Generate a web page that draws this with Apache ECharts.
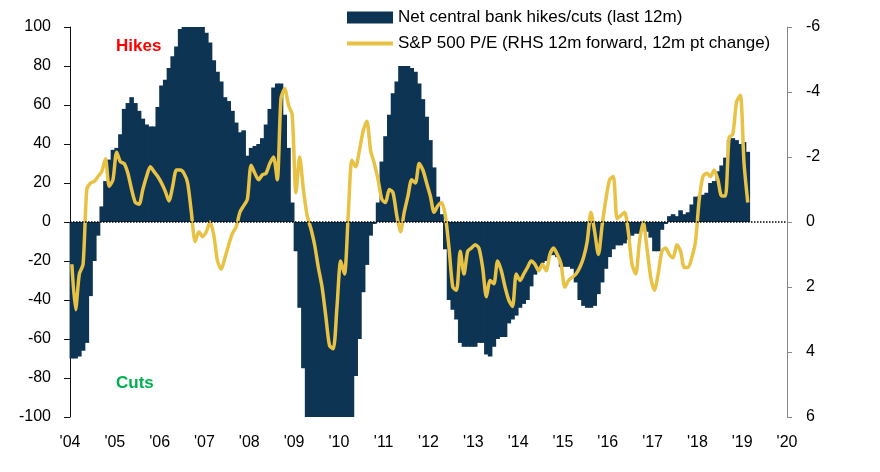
<!DOCTYPE html>
<html><head><meta charset="utf-8">
<script src="https://cdn.jsdelivr.net/npm/echarts@6/dist/echarts.min.js"></script>
<style>html,body{margin:0;padding:0;background:#fff}#c{width:880px;height:472px}</style>
</head><body><div id="c"></div>
<script>
// Monthly data, Jan 2004 onwards
const startYear = 2004;
const barName = 'Net central bank hikes/cuts (last 12m)';
const lineName = 'S&P 500 P/E (RHS 12m forward, 12m pt change)';
const xTickLabels = ["'04","'05","'06","'07","'08","'09","'10","'11","'12","'13","'14","'15","'16","'17","'18","'19","'20"];
const leftTicks = [-100,-80,-60,-40,-20,0,20,40,60,80,100];
const rightTicks = [-6,-4,-2,0,2,4,6];

const netHikesCuts = [
 -70,-70,-69,-66,-62,-38,-20,-7,8,21,32,37,
 38,45,58,61,64,61,57,53,50,49,49,59,
 70,73,79,85,90,99,100,100,100,100,100,100,
 97,92,83,77,72,64,62,57,51,46,47,34,
 38,39,40,43,50,58,69,71,71,55,38,10,
 -15,-44,-75,-100,-100,-100,-100,-100,-100,-100,-100,-100,
 -100,-100,-100,-100,-79,-60,-36,-22,-7,-1,10,31,
 44,55,66,72,80,80,80,79,77,71,63,54,
 42,28,13,4,-14,-40,-45,-50,-62,-64,-64,-64,
 -64,-62,-62,-68,-69,-64,-60,-59,-59,-52,-50,-48,
 -44,-42,-40,-33,-27,-25,-21,-20,-17,-17,-18,-23,
 -23,-23,-24,-31,-40,-43,-44,-44,-43,-37,-31,-24,
 -18,-14,-12,-12,-11,-9,-7,-6,-6,-3,-5,-8,
 -15,-15,-4,-1,3,4,3,6,4,5,9,13,
 13,14,15,20,21,26,29,33,42,43,42,40,
 41,36
];

const spPeChange = [
 1.3,2.7,1.6,1.3,-1.0,-1.2,-1.25,-1.4,-1.55,-1.95,-1.1,-1.3,
 -2.15,-1.85,-1.8,-1.5,-1.0,-0.6,-0.55,-1.0,-1.4,-1.7,-1.55,-1.4,
 -1.2,-0.95,-0.65,-1.1,-1.6,-1.6,-1.5,-1.2,-0.3,0.6,0.3,0.45,
 0.3,0.0,0.4,1.2,1.45,1.1,0.7,0.35,0.15,-0.3,-0.5,-0.7,
 -1.75,-1.5,-1.3,-1.45,-1.5,-1.8,-2.0,-1.3,-3.8,-4.1,-3.6,-3.3,
 -0.9,-2.0,-1.0,-0.2,0.2,0.7,1.4,2.0,2.9,3.8,3.9,2.6,
 1.2,1.6,-0.2,-1.9,-1.7,-2.2,-2.8,-3.1,-2.2,-1.8,-1.3,-0.7,
 -0.6,-1.0,-0.9,-0.2,0.3,-0.3,-0.8,-1.3,-1.2,-1.8,-1.6,-1.2,
 -0.8,-0.3,-0.5,-0.6,-0.2,0.8,2.0,2.1,0.9,1.6,0.9,0.8,
 0.7,0.8,1.4,2.3,1.8,1.9,1.2,1.5,2.0,2.4,2.6,1.6,
 1.8,1.6,1.4,1.2,1.3,1.5,1.3,1.5,1.0,0.8,1.0,1.3,
 2.0,1.8,1.7,1.6,1.4,1.1,0.6,-0.3,0.3,1.0,0.1,-0.7,
 -1.3,-1.4,-0.1,-0.2,-0.3,0.3,1.3,1.6,0.6,0.0,0.8,1.7,
 2.1,1.6,0.9,0.8,1.0,1.1,0.7,0.9,1.4,1.4,1.1,0.6,
 -0.7,-1.4,-1.5,-1.4,-1.6,-1.3,-0.8,-0.8,-2.6,-2.7,-3.7,-3.9,
 -1.8,-0.6
];

const barData = netHikesCuts.map((v, i) => [i + 0.5, v]);
const lineData = spPeChange.map((v, i) => [i + 0.5, v]);
const FONT = "'Liberation Sans', Arial, sans-serif";

const chart = echarts.init(document.getElementById('c'), null, {renderer: 'canvas'});
chart.setOption({
  animation: false,
  backgroundColor: '#ffffff',
  grid: {left: 70, right: 93, top: 27, bottom: 55, containLabel: false},
  legend: {
    orient: 'vertical', left: 342, top: 4,
    itemWidth: 46, itemHeight: 12, itemGap: 9,
    textStyle: {fontSize: 17, color: '#000', fontFamily: FONT},
    data: [
      {name: barName, icon: 'rect'},
      {name: lineName, icon: 'path://M0,0 H46 V4 H0 Z'}
    ]
  },
  xAxis: {
    type: 'value', min: 0, max: 192, interval: 12,
    axisLine: {show: false, onZero: false}, axisTick: {show: false}, splitLine: {show: false},
    axisLabel: {margin: 18, fontSize: 16, color: '#000', fontFamily: FONT,
      formatter: v => xTickLabels[Math.round(v / 12)] || ''}
  },
  yAxis: [{
    type: 'value', min: -100, max: 100, interval: 20, position: 'left',
    axisLine: {show: true, onZero: false, lineStyle: {color: '#111', width: 1}},
    axisTick: {show: true, length: 6, lineStyle: {color: '#111'}},
    splitLine: {show: false},
    axisLabel: {margin: 19, fontSize: 16, color: '#000', fontFamily: FONT,
      formatter: v => leftTicks.includes(v) ? String(v) : ''}
  }, {
    type: 'value', min: -6, max: 6, interval: 2, inverse: true, position: 'right',
    axisLine: {show: true, onZero: false, lineStyle: {color: '#888', width: 1}},
    axisTick: {show: true, length: 5, lineStyle: {color: '#888'}},
    splitLine: {show: false},
    axisLabel: {margin: 19, fontSize: 16, color: '#000', fontFamily: FONT,
      formatter: v => rightTicks.includes(v) ? String(v) : ''}
  }],
  series: [{
    name: barName, type: 'bar', yAxisIndex: 0, data: barData,
    barWidth: 4.6, itemStyle: {color: '#0e3453'}, z: 2,
    markLine: {
      silent: true, symbol: 'none', label: {show: false},
      lineStyle: {color: '#000', type: 'dotted', width: 1.5},
      data: [{yAxis: 0}]
    }
  }, {
    name: lineName, type: 'line', yAxisIndex: 1, data: lineData,
    symbol: 'none', smooth: 0.25,
    lineStyle: {color: '#e8c244', width: 3.5},
    itemStyle: {color: '#e8c244'}, z: 3
  }],
  graphic: [
    {type: 'text', left: 116, top: 38, style: {text: 'Hikes', fill: '#ff0000', font: "bold 17px " + FONT}},
    {type: 'text', left: 116, top: 375, style: {text: 'Cuts', fill: '#00b050', font: "bold 17px " + FONT}}
  ]
});
</script></body></html>
